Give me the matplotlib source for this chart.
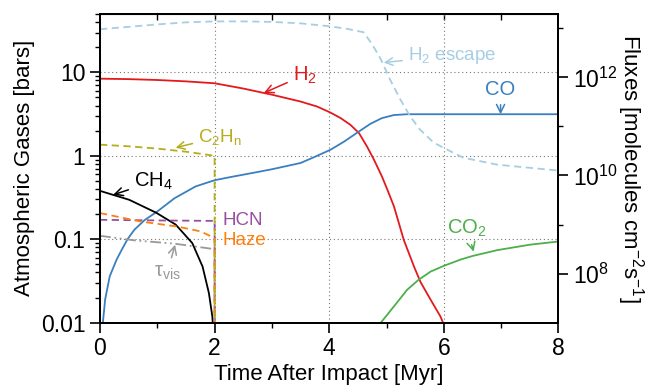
import numpy as np
import matplotlib
matplotlib.use("Agg")
import matplotlib.pyplot as plt
from matplotlib.ticker import FixedLocator, NullFormatter, LogFormatterSciNotation

plt.rcParams['font.family'] = ['Liberation Sans', 'DejaVu Sans']
plt.rcParams['mathtext.fontset'] = 'custom'
plt.rcParams['mathtext.rm'] = 'Liberation Sans'
plt.rcParams['mathtext.it'] = 'Liberation Sans:italic'
plt.rcParams['mathtext.default'] = 'regular'

# atmospheric gases [bar] vs time after impact [Myr]
t_h2 = [0, 0.5, 1.0, 1.5, 2.0, 2.5, 3.0, 3.5, 3.79, 4.02, 4.2, 4.37, 4.52, 4.66, 4.78, 4.92, 5.01, 5.13,
        5.3, 5.48, 5.59, 5.77, 5.94, 6.0]
h2 = [8.4, 8.3, 8.1, 7.8, 7.4, 6.4, 5.4, 4.47, 3.89, 3.3, 2.83, 2.35, 1.87, 1.29, 0.9, 0.565, 0.4, 0.247,
      0.0986, 0.047, 0.031, 0.0188, 0.0119, 0.0095]

t_co = [0.05, 0.09, 0.17, 0.29, 0.38, 0.48, 0.6, 0.78, 1.0, 1.3, 1.67, 2.0, 2.3, 2.7, 3.0, 3.5, 3.76, 4.02,
        4.26, 4.52, 4.72, 4.92, 5.13, 5.36, 6.0, 7.0, 8.0]
co = [0.01, 0.019, 0.036, 0.057, 0.075, 0.1, 0.13, 0.17, 0.215, 0.31, 0.43, 0.51, 0.56, 0.63, 0.69, 0.82, 0.98, 1.18,
      1.48, 1.96, 2.42, 2.83, 3.08, 3.15, 3.15, 3.15, 3.15]

t_co2 = [4.9, 5.13, 5.36, 5.56, 5.77, 6.0, 6.29, 6.5, 6.93, 7.5, 8.0]
co2 = [0.01, 0.0157, 0.0248, 0.0327, 0.041, 0.048, 0.057, 0.063, 0.074, 0.086, 0.094]

t_ch4 = [0, 0.51, 0.98, 1.32, 1.61, 1.79, 1.9, 1.96, 1.99]
ch4 = [0.38, 0.297, 0.208, 0.15, 0.09, 0.047, 0.0227, 0.0119, 0.006]

t_c2hn = [0, 0.5, 1.0, 1.5, 2.0, 2.0]
c2hn = [1.36, 1.3, 1.22, 1.12, 1.0, 1e-3]

t_hcn = [0, 1.0, 2.0, 2.0]
hcn = [0.171, 0.168, 0.166, 1e-3]

t_haze = [0, 0.71, 1.35, 1.76, 2.0, 2.0]
haze = [0.206, 0.163, 0.142, 0.124, 0.103, 1e-3]

t_tau = [0, 0.6, 1.3, 2.0, 2.0]
tau_vis = [0.110, 0.097, 0.0885, 0.076, 1e-3]

# H2 escape flux [molecules cm^-2 s^-1]
t_esc = [0, 0.5, 1.0, 1.5, 2.0, 2.5, 3.0, 3.5, 4.0, 4.3, 4.6, 4.75, 4.9, 5.06, 5.24, 5.41, 5.58, 5.82, 6.05,
         6.34, 6.93, 8.0]
h2_esc = [9.55e12, 1.07e13, 1.20e13, 1.32e13, 1.38e13, 1.38e13, 1.35e13, 1.26e13, 1.10e13, 9.8e12, 8.3e12,
          4.7e12, 2.34e12, 9.1e11, 3.55e11, 1.62e11, 8.7e10, 4.7e10, 3.4e10, 2.3e10, 1.66e10, 1.26e10]

c_h2 = '#e31a1c'
c_co = '#3a7fbf'
c_co2 = '#4daf4a'
c_ch4 = 'black'
c_c2 = '#b5ad1a'
c_hcn = '#984ea3'
c_haze = '#ff7f0e'
c_tau = '#999999'
c_esc = '#a6cee3'

fig = plt.figure(figsize=(6.57, 3.9), dpi=100)
ax = fig.add_axes([0.1522, 0.1726, 0.6978, 0.7914])
ax2 = ax.twinx()

lw = 1.3
dash = (0, (4, 2.5))
ax2.plot(t_esc, h2_esc, color=c_esc, lw=lw, ls=dash)
ax.plot(t_h2, h2, color=c_h2, lw=lw)
ax.plot(t_co, co, color=c_co, lw=lw)
ax.plot(t_co2, co2, color=c_co2, lw=lw)
ax.plot(t_ch4, ch4, color=c_ch4, lw=lw)
ax.plot(t_hcn, hcn, color=c_hcn, lw=lw, ls=dash)
ax.plot(t_tau, tau_vis, color=c_tau, lw=lw, ls=(0, (6, 2, 1, 2, 1, 2)))
ax.plot(t_haze, haze, color=c_haze, lw=lw, ls=dash)
ax.plot(t_c2hn, c2hn, color=c_c2, lw=lw, ls=dash)

ax.set_xlim(0, 8)
ax.set_yscale('log')
ax.set_ylim(0.01, 50)
ax2.set_yscale('log')
ax2.set_ylim(1e7, 1.95e13)

ax.set_xticks([0, 2, 4, 6, 8])
ax.set_xticks([1, 3, 5, 7], minor=True)
ax.set_yticks([0.01, 0.1, 1, 10])
ax.set_yticklabels(['0.01', '0.1', '1', '10'])

ax2.yaxis.set_major_locator(FixedLocator([1e8, 1e10, 1e12]))
ax2.yaxis.set_major_formatter(LogFormatterSciNotation())
ax2.yaxis.set_minor_locator(FixedLocator([1e9, 1e11, 1e13]))
ax2.yaxis.set_minor_formatter(NullFormatter())

for a in (ax, ax2):
    a.tick_params(which='major', direction='out', length=7, width=1.2, labelsize=16.5)
    a.tick_params(which='minor', direction='out', length=3.5, width=1.0)
    for s in a.spines.values():
        s.set_linewidth(1.4)

top = ax.secondary_xaxis('top')
top.set_xticks(range(1, 8))
top.tick_params(direction='in', length=4, width=1.0, labeltop=False)

ax.grid(True, which='major', ls=(0, (1, 2.5)), color='#777777', lw=0.8)
ax.set_axisbelow(True)

ax.set_xlabel('Time After Impact [Myr]', fontsize=16, labelpad=3)
ax.set_ylabel('Atmospheric Gases [bars]', fontsize=16, labelpad=4)
ax2.set_ylabel('Fluxes [molecules cm$^{-2}$s$^{-1}$]', fontsize=16, rotation=270, labelpad=20)

fs = 13.5
ap = dict(arrowstyle='->', lw=1.1, shrinkA=2, shrinkB=0)
ax.annotate('H$_2$', xy=(2.86, 5.67), xytext=(3.36, 9.3), color=c_h2, fontsize=fs + 1,
            ha='left', va='center', arrowprops=dict(ap, color=c_h2))
ax2.annotate('H$_2$ escape', xy=(4.95, 2.0e12), xytext=(5.37, 2.8e12), color=c_esc, fontsize=fs,
             ha='left', va='center', arrowprops=dict(ap, color=c_esc))
ax.annotate('CO', xy=(6.99, 3.15), xytext=(6.99, 6.2), color=c_co, fontsize=fs + 1,
            ha='center', va='center', arrowprops=dict(ap, color=c_co))
ax.annotate('CO$_2$', xy=(6.52, 0.071), xytext=(6.06, 0.134), color=c_co2, fontsize=fs + 1,
            ha='left', va='center', arrowprops=dict(ap, color=c_co2))
ax.annotate('C$_2$H$_n$', xy=(1.32, 1.25), xytext=(1.71, 1.69), color=c_c2, fontsize=fs,
            ha='left', va='center', arrowprops=dict(ap, color=c_c2))
ax.annotate('CH$_4$', xy=(0.23, 0.341), xytext=(0.59, 0.489), color=c_ch4, fontsize=fs + 1,
            ha='left', va='center', arrowprops=dict(ap, color=c_ch4))
ax.annotate('τ$_{vis}$', xy=(1.31, 0.086), xytext=(0.94, 0.0397), color=c_tau, fontsize=fs + 1,
            ha='left', va='center', arrowprops=dict(ap, color=c_tau))
ax.text(2.14, 0.167, 'HCN', color=c_hcn, fontsize=fs, ha='left', va='center')
ax.text(2.14, 0.096, 'Haze', color=c_haze, fontsize=fs, ha='left', va='center')

fig.savefig('out.png', dpi=100)
